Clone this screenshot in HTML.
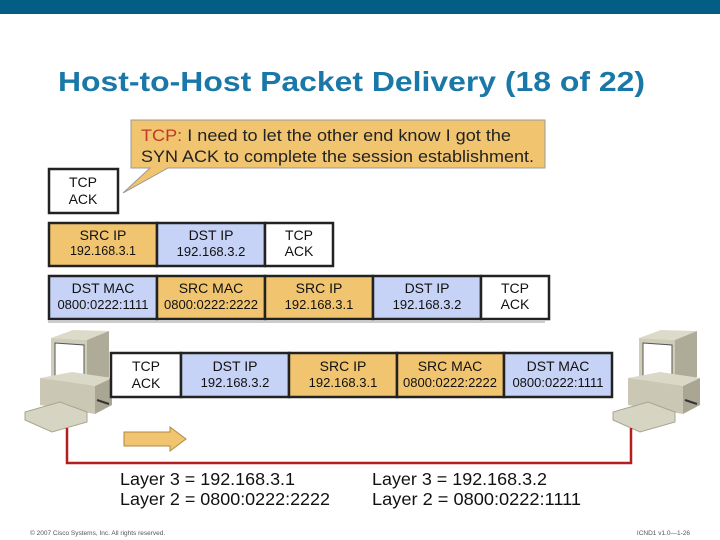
<!DOCTYPE html>
<html><head><meta charset="utf-8"><style>
html,body{margin:0;padding:0;background:#fff;}
svg{display:block;font-family:"Liberation Sans",Arial,sans-serif;}
</style></head><body>
<svg width="720" height="540" viewBox="0 0 720 540" xmlns="http://www.w3.org/2000/svg">
<rect x="0" y="0" width="720" height="14" fill="#045d85"/>
<text x="58" y="91" font-size="28" font-weight="bold" fill="#1a78a8" textLength="587" lengthAdjust="spacingAndGlyphs">Host-to-Host Packet Delivery (18 of 22)</text>

<!-- callout -->
<path d="M131,120 H545 V168 H168 L123,193 L150,168 H131 Z" fill="#f1c470" stroke="#999" stroke-width="1"/>
<text x="141" y="141" font-size="17" fill="#222" textLength="370" lengthAdjust="spacingAndGlyphs"><tspan fill="#c0392b">TCP:</tspan> I need to let the other end know I got the</text>
<text x="141" y="162" font-size="17" fill="#222" textLength="393" lengthAdjust="spacingAndGlyphs">SYN ACK to complete the session establishment.</text>

<g stroke="#222" stroke-width="2.5">
<rect x="49" y="169" width="69" height="44" fill="#fff"/>
<rect x="49" y="223" width="108" height="43" fill="#f1c470"/>
<rect x="157" y="223" width="108" height="43" fill="#c6d2f6"/>
<rect x="265" y="223" width="68" height="43" fill="#fff"/>
<rect x="49" y="276" width="108" height="43" fill="#c6d2f6"/>
<rect x="157" y="276" width="108" height="43" fill="#f1c470"/>
<rect x="265" y="276" width="108" height="43" fill="#f1c470"/>
<rect x="373" y="276" width="108" height="43" fill="#c6d2f6"/>
<rect x="481" y="276" width="68" height="43" fill="#fff"/>
</g>
<line x1="48" y1="322" x2="545" y2="322" stroke="#bbb" stroke-width="1.5"/>

<!-- computers -->
<g id="pc">
<polygon points="51,338 73,330 109,331 87,340" fill="#dcdac8"/>
<polygon points="51,338 87,340 87,387 51,381" fill="#cfcdb9"/>
<polygon points="87,340 109,331 109,377 87,387" fill="#aeac98"/>
<polygon points="55,343 84,345 84,383 55,378" fill="#fff" stroke="#555" stroke-width="1"/>
<polygon points="40,378 72,372 112,378 95,386" fill="#dad8c6"/>
<polygon points="40,378 95,386 95,414 40,405" fill="#cac8b4"/>
<polygon points="95,386 112,378 112,405 95,414" fill="#a9a793"/>
<line x1="97" y1="400" x2="109" y2="404" stroke="#333" stroke-width="2"/>
<polygon points="25,412 60,402 87,412 87,422 52,432 25,420" fill="#d6d4c2" stroke="#a8a692" stroke-width="1"/>
</g>
<use href="#pc" transform="translate(588,0)"/>

<g stroke="#222" stroke-width="2.5">
<rect x="111" y="353" width="70" height="44" fill="#fff"/>
<rect x="181" y="353" width="108" height="44" fill="#c6d2f6"/>
<rect x="289" y="353" width="108" height="44" fill="#f1c470"/>
<rect x="397" y="353" width="107" height="44" fill="#f1c470"/>
<rect x="504" y="353" width="108" height="44" fill="#c6d2f6"/>
</g>

<g font-size="14" fill="#111" text-anchor="middle">
<text x="83" y="187">TCP</text><text x="83" y="204">ACK</text>
<text x="103" y="240">SRC IP</text><text x="103" y="255" font-size="12.5">192.168.3.1</text>
<text x="211" y="240">DST IP</text><text x="211" y="256" font-size="13">192.168.3.2</text>
<text x="299" y="240">TCP</text><text x="299" y="256">ACK</text>
<text x="103" y="293">DST MAC</text><text x="103" y="309" font-size="13">0800:0222:1111</text>
<text x="211" y="293">SRC MAC</text><text x="211" y="309" font-size="13">0800:0222:2222</text>
<text x="319" y="293">SRC IP</text><text x="319" y="309" font-size="13">192.168.3.1</text>
<text x="427" y="293">DST IP</text><text x="427" y="309" font-size="13">192.168.3.2</text>
<text x="515" y="293">TCP</text><text x="515" y="309">ACK</text>
<text x="146" y="371">TCP</text><text x="146" y="388">ACK</text>
<text x="235" y="371">DST IP</text><text x="235" y="387" font-size="13">192.168.3.2</text>
<text x="343" y="371">SRC IP</text><text x="343" y="387" font-size="13">192.168.3.1</text>
<text x="450" y="371">SRC MAC</text><text x="450" y="387" font-size="13">0800:0222:2222</text>
<text x="558" y="371">DST MAC</text><text x="558" y="387" font-size="13">0800:0222:1111</text>
</g>

<polyline points="67,428 67,463 631,463 631,428" fill="none" stroke="#b31e1e" stroke-width="2.5"/>
<polygon points="124,432 170,432 170,427 186,439 170,451 170,446 124,446" fill="#f1c470" stroke="#b08a40" stroke-width="1"/>

<g font-size="17.5" fill="#111">
<text x="120" y="485" textLength="175" lengthAdjust="spacingAndGlyphs">Layer 3 = 192.168.3.1</text>
<text x="120" y="505" textLength="210" lengthAdjust="spacingAndGlyphs">Layer 2 = 0800:0222:2222</text>
<text x="372" y="485" textLength="175" lengthAdjust="spacingAndGlyphs">Layer 3 = 192.168.3.2</text>
<text x="372" y="505" textLength="209" lengthAdjust="spacingAndGlyphs">Layer 2 = 0800:0222:1111</text>
</g>
<text x="30" y="535" font-size="6.5" fill="#555">© 2007 Cisco Systems, Inc. All rights reserved.</text>
<text x="690" y="535" font-size="6.5" fill="#555" text-anchor="end">ICND1 v1.0—1-26</text>
</svg>
</body></html>
